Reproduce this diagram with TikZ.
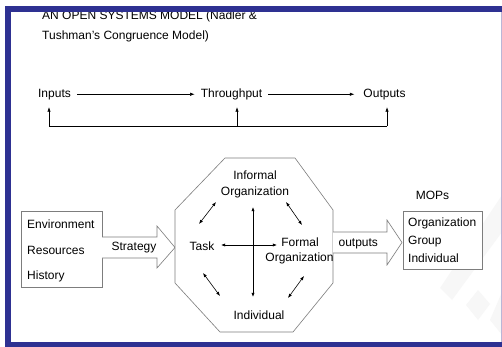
\documentclass[tikz,border=0pt]{standalone}
\usepackage{fontspec}
\setmainfont{Liberation Sans}
\usetikzlibrary{arrows.meta,calc}
\definecolor{barblue}{RGB}{46,49,146}
\definecolor{shapegray}{RGB}{125,125,125}
\definecolor{edgelav}{RGB}{185,182,215}
\begin{document}
\begin{tikzpicture}[x=1pt,y=-1pt,
  txt/.style={font=\fontsize{12}{14}\selectfont, inner sep=0pt},
  rowtxt/.style={font=\fontsize{12}{14}\selectfont, text height=9pt, text depth=2.5pt, inner xsep=6pt, inner ysep=7pt, anchor=base},
  flow/.style={draw=black, line width=0.6pt, -{Latex[length=4.5pt,width=3.4pt]}},
  dbl/.style={draw=black, line width=0.6pt, {Latex[length=4.2pt,width=3.2pt]}-{Latex[length=4.2pt,width=3.2pt]}},
  plain/.style={draw=black, line width=0.6pt},
  shp/.style={draw=shapegray, line width=0.6pt, fill=white},
  wm/.style={fill=black!3, draw=none},
]
\useasboundingbox (0,0) rectangle (502,347);
\fill[white] (0,0) rectangle (502,347);
% faint watermark
\fill[wm] (502,195) -- (502,232) -- (452,300) -- (440,288) -- cycle;
\fill[wm] (478,290) -- (490,304) -- (478,320) -- (466,305) -- cycle;
\fill[wm] (502,292) -- (502,335) -- (490,320) -- cycle;

% title
\node[txt, anchor=base west] (t1) at (42,20) {AN OPEN SYSTEMS MODEL (Nadler \&};
\node[txt, anchor=base west] (t2) at (42,39.5) {Tushman’s Congruence Model)};

% top row
\node[rowtxt] (in) at (54.5,97.5) {Inputs};
\node[rowtxt] (tp) at (231.5,97.5) {Throughput};
\node[rowtxt] (out) at (384.5,97.5) {Outputs};
\draw[flow] (in) -- (tp);
\draw[flow, shorten >=3pt] (tp) -- (out);
\coordinate (f1) at (49,126);
\coordinate (f2) at (237,126);
\coordinate (f3) at (387,126);
\draw[plain] (f1) -- (f3);
\draw[flow] (f1) -- (f1 |- in.south);
\draw[flow] (f2) -- (f2 |- tp.south);
\draw[flow] (f3) -- (f3 |- out.south);

% left box
\node[shp, minimum width=81pt, minimum height=76pt, inner sep=0pt] (envbox) at (61.5,249) {};
\node[txt, anchor=base west] (env) at (27,228) {Environment};
\node[txt, anchor=base west] (res) at (27,254) {Resources};
\node[txt, anchor=base west] (his) at (27,279) {History};

% strategy arrow
\fill[white] (102,237) -- (157,237) -- (157,226) -- (175,247.5) -- (157,268) -- (157,258) -- (102,258) -- cycle;
\draw[shapegray, line width=0.6pt] (102,237) -- (157,237) -- (157,226) -- (175,247.5) -- (157,268) -- (157,258) -- (102,258);
\node[txt, anchor=base] (strat) at (134,250.5) {Strategy};

% octagon
\draw[shp] (225,158) -- (295,158) -- (333,210) -- (333,283) -- (293,332) -- (220,332) -- (175,283) -- (175,210) -- cycle;
\node[txt, anchor=base] (inf1) at (255,179.5) {Informal};
\node[txt, anchor=base] (inf2) at (255,195) {Organization};
\node[txt, anchor=base] (task) at (202,250) {Task};
\node[txt, anchor=base] (form1) at (300,246) {Formal};
\node[txt, anchor=base] (form2) at (299.5,261.5) {Organization};
\node[txt, anchor=base] (indiv) at (259,319) {Individual};

\coordinate (h1) at (221,245); \coordinate (h2) at (277,245);
\coordinate (v1) at (253,207); \coordinate (v2) at (253,297);
\coordinate (a1) at (199,224); \coordinate (a2) at (216,202);
\coordinate (b1) at (286,202); \coordinate (b2) at (302,225);
\coordinate (c1) at (203,273); \coordinate (c2) at (220,296);
\coordinate (d1) at (288,298); \coordinate (d2) at (304,276);
\draw[dbl] (h1) -- (h2);
\draw[dbl] (v1) -- (v2);
\draw[dbl] (a1) -- (a2);
\draw[dbl] (b1) -- (b2);
\draw[dbl] (c1) -- (c2);
\draw[dbl] (d1) -- (d2);

% outputs arrow
\fill[white] (333,232) -- (387,232) -- (387,220) -- (402,242.5) -- (387,265) -- (387,253) -- (333,253) -- cycle;
\draw[shapegray, line width=0.6pt] (333,232) -- (387,232) -- (387,220) -- (402,242.5) -- (387,265) -- (387,253) -- (333,253);
\node[txt, anchor=base] (outl) at (358.3,246) {outputs};

% MOPs box
\node[txt, anchor=base] (mops) at (432.5,199) {MOPs};
\node[shp, minimum width=79pt, minimum height=58pt, inner sep=0pt] (mopbox) at (442.5,240) {};
\node[txt, anchor=base west] (m1) at (408,226.5) {Organization};
\node[txt, anchor=base west] (m2) at (408,244) {Group};
\node[txt, anchor=base west] (m3) at (408,262) {Individual};

% frame
\draw[edgelav, line width=1pt] (501.5,12) -- (501.5,342);
\fill[barblue] (4.5,6) rectangle (502,12);
\fill[barblue] (4.5,6) rectangle (10.5,347);
\fill[barblue] (4.5,341.5) rectangle (502,347);
\end{tikzpicture}
\end{document}
